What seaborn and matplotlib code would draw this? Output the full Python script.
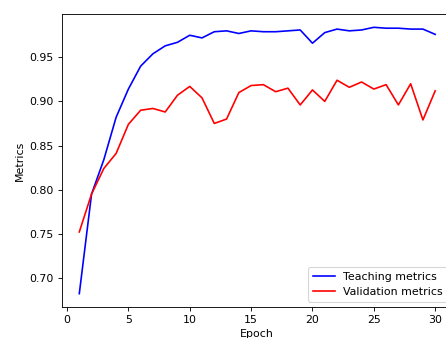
import pandas as pd
import matplotlib
matplotlib.use("Agg")
import matplotlib.pyplot as plt
import seaborn as sns

# values
epochs = list(range(1, 31))
teaching = [0.682, 0.795, 0.834, 0.882, 0.914, 0.940, 0.954, 0.963, 0.967, 0.975,
            0.972, 0.979, 0.980, 0.977, 0.980, 0.979, 0.979, 0.980, 0.981, 0.966,
            0.978, 0.982, 0.980, 0.981, 0.984, 0.983, 0.983, 0.982, 0.982, 0.976]
validation = [0.752, 0.795, 0.824, 0.841, 0.874, 0.890, 0.892, 0.888, 0.907, 0.917,
              0.904, 0.875, 0.880, 0.910, 0.918, 0.919, 0.911, 0.915, 0.896, 0.913,
              0.900, 0.924, 0.916, 0.922, 0.914, 0.919, 0.896, 0.920, 0.879, 0.912]

df = pd.DataFrame({"Epoch": epochs, "Teaching": teaching, "Validation": validation})

# reference looks like a scaled-down default figure, so render at a lower dpi
DPI = 79
fig = plt.figure(figsize=(446 / DPI, 338 / DPI), dpi=DPI)
# axes runs a little past the right and bottom edges, like the cropped reference
ax = fig.add_axes([61.5 / 446, 31 / 338, 391.5 / 446, 293 / 338])

sns.lineplot(data=df, x="Epoch", y="Teaching", color="blue", label="Teaching metrics", ax=ax)
sns.lineplot(data=df, x="Epoch", y="Validation", color="red", label="Validation metrics", ax=ax)

ax.set_xlabel("Epoch")
ax.set_ylabel("Metrics")
ax.set_xticks([0, 5, 10, 15, 20, 25, 30])
ax.legend(loc="lower right")

fig.savefig("out.png", dpi=DPI)
